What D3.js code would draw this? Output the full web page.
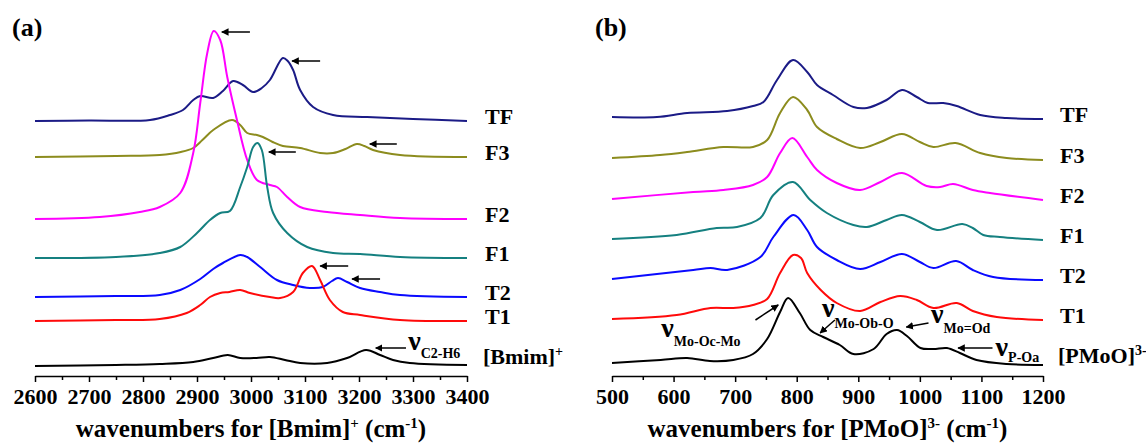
<!DOCTYPE html>
<html>
<head>
<meta charset="utf-8">
<script src="https://cdn.jsdelivr.net/npm/d3@7"></script>
<style>
  body { margin: 0; background: #fff; }
</style>
</head>
<body>
<svg id="chart" width="1146" height="446"></svg>
<script>
const FONT = "'Liberation Serif', 'DejaVu Serif', 'Times New Roman', serif";

// sample names, top to bottom
const sampleNames = ["TF", "F3", "F2", "F1", "T2", "T1"];
const colors = ["#1b1b86", "#8c8c1e", "#ff00ff", "#158080", "#0a0aff", "#ff0a0a", "#000000"];

// panel (a): [Bmim]+ region, [wavenumber, intensity above own baseline]
const tfA = [[2600,0],[2700,0.5],[2813,1],[2850,6],[2874,11],[2893,21],[2906,25],[2930,23],[2948,30],[2967,40],[2985,36],[3004,29],[3020,33],[3035,41],[3059,63],[3068,60],[3078,51],[3091,31],[3115,14],[3152,6],[3215,4],[3300,2],[3400,0]];
const f3A = [[2600,0],[2750,1],[2831,2],[2870,5],[2893,9],[2910,17],[2930,27],[2965,37],[2980,32],[2993,24],[3011,22],[3022,20],[3040,15],[3059,11],[3091,9],[3128,4],[3152,4],[3175,8],[3196,13],[3210,11],[3226,7],[3276,2],[3400,0]];
const f2A = [[2600,0],[2720,2],[2794,7],[2831,12],[2869,26],[2893,66],[2906,116],[2919,166],[2931,188],[2943,179],[2956,142],[2974,99],[2993,59],[3011,39],[3035,34],[3048,32],[3067,22],[3091,12],[3141,7],[3202,4],[3276,1],[3400,0]];
const f1A = [[2600,0],[2750,1],[2831,5],[2869,11],[2900,25],[2924,38],[2943,45],[2961,47],[2980,71],[2993,91],[3004,111],[3012,115],[3020,108],[3030,71],[3041,45],[3067,25],[3104,11],[3152,5],[3202,4],[3276,1],[3400,0]];
const t2A = [[2600,0],[2750,1],[2831,2],[2869,7],[2906,18],[2930,28],[2948,34],[2980,42],[2993,40],[3017,30],[3048,17],[3078,12],[3109,9],[3133,10],[3150,16],[3161,19],[3178,15],[3202,9],[3239,5],[3276,2],[3400,0]];
const t1A = [[2600,0],[2750,1],[2831,2],[2881,8],[2906,16],[2924,24],[2943,28],[2960,29],[2980,31],[2998,28],[3035,24],[3054,23],[3078,29],[3096,48],[3113,55],[3128,41],[3146,21],[3170,9],[3202,6],[3276,1],[3400,0]];
const bmimA = [[2600,0],[2750,1],[2831,2],[2893,4],[2930,8],[2957,11],[2980,8],[3010,8],[3035,9],[3063,6],[3091,3],[3141,3],[3178,8],[3213,16],[3239,11],[3263,6],[3294,3],[3400,1]];
const offsetsA = [255, 219, 157, 118, 79, 55, 10];

// panel (b): [PMoO]3- region
const tfB = [[500,2],[573,2],[622,6],[687,8],[729,13],[746,17],[768,39],[794,59],[817,47],[833,34],[859,24],[892,12],[914,11],[946,19],[971,29],[995,22],[1013,16],[1038,16],[1060,13],[1098,4],[1141,1],[1200,0]];
const f3B = [[500,2],[578,5],[622,8],[681,13],[729,13],[752,20],[773,47],[794,63],[817,50],[833,33],[865,21],[903,12],[936,18],[971,26],[1000,18],[1022,13],[1058,17],[1098,7],[1141,2],[1200,0]];
const f2B = [[500,1],[632,8],[681,10],[729,15],[752,23],[773,47],[793,62],[817,43],[833,30],[865,17],[903,10],[936,18],[971,27],[1011,14],[1033,13],[1054,16],[1086,10],[1114,7],[1200,0]];
const f1B = [[500,1],[605,5],[670,12],[703,13],[741,22],[762,45],[794,58],[822,40],[849,27],[892,15],[914,13],[946,20],[971,25],[1000,18],[1028,10],[1069,16],[1086,12],[1103,5],[1130,3],[1200,0]];
const t2B = [[500,1],[632,10],[660,12],[687,10],[741,23],[762,43],[795,65],[817,50],[833,33],[865,20],[903,11],[936,18],[971,26],[1000,18],[1022,12],[1059,19],[1086,10],[1119,3],[1200,0]];
const t1B = [[500,1],[605,5],[660,12],[697,12],[729,15],[752,21],[773,47],[794,65],[807,62],[817,47],[839,30],[865,17],[903,9],[936,18],[968,24],[995,20],[1022,12],[1060,17],[1086,9],[1125,3],[1200,0]];
const pmoB = [[500,2],[579,5],[622,7],[659,4],[697,5],[729,11],[752,26],[773,53],[786,67],[805,52],[822,35],[843,28],[870,20],[892,11],[925,16],[946,31],[963,35],[979,29],[1001,17],[1022,16],[1044,17],[1065,12],[1092,5],[1141,1],[1200,0]];
const offsetsB = [257, 216, 176, 136, 96, 56, 11];

// tick values
const ticksA = d3.range(2600, 3401, 100);
const minorA = d3.range(2650, 3400, 100);
const ticksB = d3.range(500, 1201, 100);
const minorB = d3.range(550, 1200, 100);

// arrows: [x tail, h tail, x tip, h tip]
const arrowsA = [[2998,344,2946,344],[3128,315,3076,315],[3270,232,3220,232],[3083,224,3033,224],[3180,110,3128,110],[3239,97,3187,97],[3287,28,3231,28]];
const arrowsB = [[733,56,770,71],[862,56,838,43],[1014,53,978,49],[1118,28,1062,28]];

// vibration labels: [x, h, subscript, sub shift]
const nuA = [[3291,26,"C2-H6",8]];
const nuB = [[580,39,"Mo-Oc-Mo",9],[841,59,"Mo-Ob-O",11],[1018,53,"Mo=Od",10],[1123,20,"P-Oa",6]];

const svg = d3.select("#chart");
const y = d3.scaleLinear().domain([0, 345]).range([376, 31]);

svg.append("defs").append("marker")
  .attr("id", "head")
  .attr("viewBox", "0 0 10 10")
  .attr("refX", 9).attr("refY", 5)
  .attr("markerWidth", 5).attr("markerHeight", 5)
  .attr("markerUnits", "strokeWidth")
  .attr("orient", "auto")
  .append("path").attr("d", "M0,0L10,5L0,10Z").attr("fill", "#000");

function label(g, size) {
  return g.append("text")
    .style("font-family", FONT)
    .style("font-weight", "bold")
    .style("font-size", size + "px")
    .attr("fill", "#000");
}

function drawPanel(cfg) {
  const x = d3.scaleLinear().domain(cfg.domain).range(cfg.range);
  const g = svg.append("g");

  const line = d3.line()
    .x((d) => x(d[0]))
    .y((d) => y(d[1]))
    .curve(d3.curveCatmullRom.alpha(0.5));

  cfg.spectra.forEach((s, i) => {
    const pts = s.map((p) => [p[0], p[1] + cfg.offsets[i]]);
    g.append("path")
      .datum(pts)
      .attr("d", line)
      .attr("fill", "none")
      .attr("stroke", colors[i])
      .attr("stroke-width", 2)
      .attr("stroke-linejoin", "round");
  });

  // x axis, major + minor ticks
  const axis = g.append("g")
    .attr("transform", `translate(0,${y(0)})`)
    .call(d3.axisBottom(x).tickValues(cfg.ticks).tickSize(6).tickSizeOuter(0).tickPadding(6).tickFormat(d3.format("d")));
  axis.select(".domain").attr("stroke-width", 1.5);
  axis.selectAll(".tick line").attr("stroke-width", 1.5);
  axis.selectAll("text")
    .style("font-family", FONT)
    .style("font-weight", "bold")
    .style("font-size", "22px");

  const minor = g.append("g")
    .attr("transform", `translate(0,${y(0)})`)
    .call(d3.axisBottom(x).tickValues(cfg.minor).tickSize(4).tickFormat(""));
  minor.select(".domain").remove();
  minor.selectAll(".tick line").attr("stroke-width", 1.5);

  // axis title
  const cx = (cfg.range[0] + cfg.range[1]) / 2;
  const title = label(g, 25)
    .attr("x", cx).attr("y", 437)
    .attr("text-anchor", "middle");
  title.append("tspan").text(cfg.title[0]);
  title.append("tspan").attr("dy", -9).style("font-size", "15px").text(cfg.title[1]);
  title.append("tspan").attr("dy", 9).text(" (cm");
  title.append("tspan").attr("dy", -9).style("font-size", "15px").text("-1");
  title.append("tspan").attr("dy", 9).text(")");

  // panel letter
  label(g, 26).attr("x", cfg.letterX).attr("y", 36).text(cfg.letter);

  // sample labels
  sampleNames.forEach((n, i) => {
    label(g, 22)
      .attr("x", cfg.labelX).attr("y", y(cfg.offsets[i]) + 3)
      .text(n);
  });
  const base = label(g, 22)
    .attr("x", cfg.labelX - 2).attr("y", y(cfg.offsets[6]) - 2);
  base.append("tspan").text(cfg.base[0]);
  base.append("tspan").attr("dy", -8).style("font-size", "14px").text(cfg.base[1]);

  // arrows
  cfg.arrows.forEach((a) => {
    g.append("line")
      .attr("x1", x(a[0])).attr("y1", y(a[1]))
      .attr("x2", x(a[2])).attr("y2", y(a[3]))
      .attr("stroke", "#000")
      .attr("stroke-width", 1.5)
      .attr("marker-end", "url(#head)");
  });

  // nu labels
  cfg.nu.forEach((n) => {
    const t = label(g, 28).attr("x", x(n[0])).attr("y", y(n[1]));
    t.append("tspan").text("ν");
    t.append("tspan").attr("dy", n[3]).style("font-size", "14px").text(n[2]);
  });
}

drawPanel({
  domain: [2600, 3400], range: [35, 467],
  spectra: [tfA, f3A, f2A, f1A, t2A, t1A, bmimA], offsets: offsetsA,
  ticks: ticksA, minor: minorA,
  title: ["wavenumbers for [Bmim]", "+"],
  letter: "(a)", letterX: 12,
  labelX: 485, base: ["[Bmim]", "+"],
  arrows: arrowsA, nu: nuA
});

drawPanel({
  domain: [500, 1200], range: [612, 1043],
  spectra: [tfB, f3B, f2B, f1B, t2B, t1B, pmoB], offsets: offsetsB,
  ticks: ticksB, minor: minorB,
  title: ["wavenumbers for [PMoO]", "3-"],
  letter: "(b)", letterX: 595,
  labelX: 1060, base: ["[PMoO]", "3-"],
  arrows: arrowsB, nu: nuB
});
</script>
</body>
</html>
